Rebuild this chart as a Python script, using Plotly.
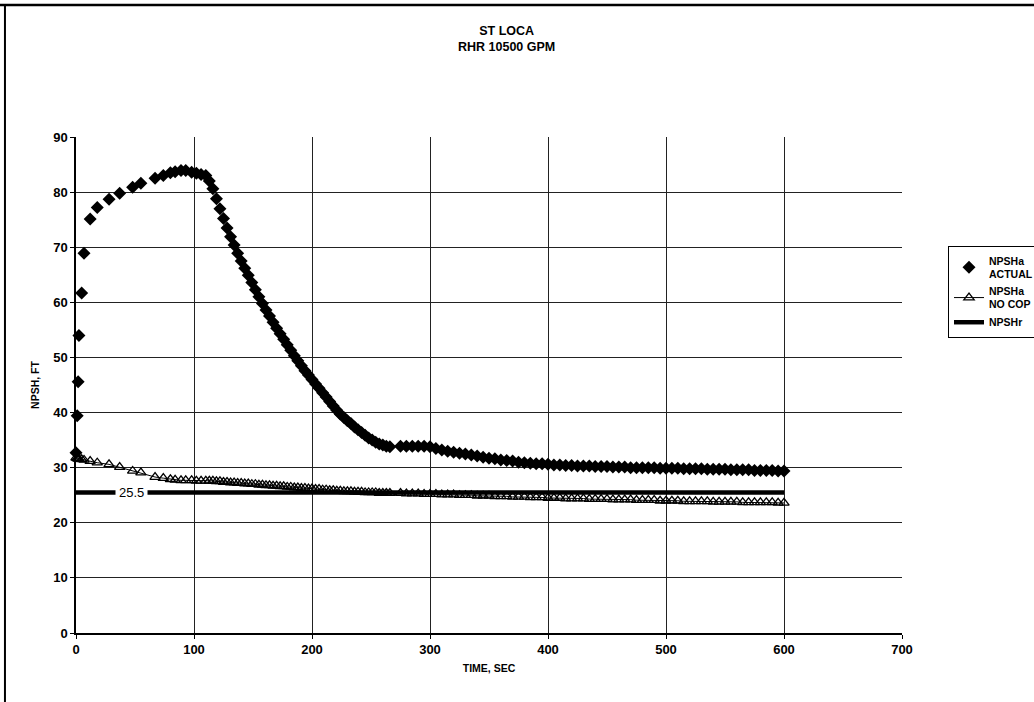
import plotly.graph_objects as go

# ---------------- data ----------------
time_sec = [0, 1, 1.8, 2.5, 4.8, 6.8, 12, 18, 28, 37, 48, 55, 67, 74, 80, 84, 89, 93, 98, 102, 106, 110, 113,
            116, 119, 122, 125, 128, 131, 134, 137, 140, 143, 146, 149, 152, 155, 158, 161, 164, 167, 170,
            173, 176, 179, 182, 185, 188, 191, 194, 197, 200, 203, 206, 209, 212, 215, 218, 221, 224, 227,
            230, 233, 236, 239, 242, 245, 248, 251, 254, 257, 260, 263, 266,
            275, 280, 285, 290, 295, 300, 305, 310, 315, 320, 325, 330, 335, 340, 345, 350, 355, 360, 365,
            370, 375, 380, 385, 390, 395, 400, 405, 410, 415, 420, 425, 430, 435, 440, 445, 450, 455, 460,
            465, 470, 475, 480, 485, 490, 495, 500, 505, 510, 515, 520, 525, 530, 535, 540, 545, 550, 555,
            560, 565, 570, 575, 580, 585, 590, 595, 600]

npsha_actual = [32.7, 39.4, 45.6, 54.0, 61.7, 68.9, 75.1, 77.2, 78.7, 79.8, 80.9, 81.6, 82.5, 83.0, 83.5, 83.7,
                83.9, 83.9, 83.6, 83.4, 83.2, 83.0, 82.0,
                80.6, 78.8, 77.0, 75.2, 73.5, 71.9, 70.4, 68.9, 67.5, 66.2, 64.9, 63.6, 62.3, 61.0, 59.8, 58.6,
                57.5, 56.4, 55.3, 54.3, 53.3, 52.3, 51.3, 50.3, 49.4, 48.5, 47.6, 46.8, 46.0, 45.2, 44.4, 43.6,
                42.8, 42.0, 41.2, 40.4, 39.7, 39.1, 38.5, 38.0, 37.4, 36.9, 36.4, 35.9, 35.4, 35.0, 34.6, 34.3,
                34.1, 33.9, 33.8,
                33.9, 33.9, 33.9, 33.9, 33.9, 33.8, 33.5, 33.2, 33.0, 32.8, 32.6, 32.5, 32.3, 32.1, 31.9, 31.7,
                31.6, 31.4, 31.3, 31.2, 31.0, 30.9, 30.8, 30.7, 30.7, 30.6, 30.5, 30.5, 30.4, 30.4, 30.3, 30.3,
                30.3, 30.2, 30.2, 30.2, 30.1, 30.1, 30.1, 30.0, 30.0, 30.0, 30.0, 30.0, 29.9, 29.9, 29.9, 29.9,
                29.8, 29.8, 29.8, 29.8, 29.7, 29.7, 29.7, 29.7, 29.6, 29.6, 29.6, 29.6, 29.5, 29.5, 29.5, 29.5,
                29.4, 29.4]

npsha_no_cop = [31.8, 31.7, 31.6, 31.6, 31.5, 31.4, 31.2, 30.9, 30.6, 30.1, 29.4, 29.1, 28.3, 28.1, 27.9, 27.8,
                27.7, 27.7, 27.7, 27.6, 27.6, 27.6, 27.6,
                27.6, 27.5, 27.5, 27.4, 27.4, 27.3, 27.3, 27.2, 27.2, 27.1, 27.1, 27.0, 27.0, 26.9, 26.9, 26.8,
                26.8, 26.7, 26.7, 26.6, 26.6, 26.5, 26.5, 26.4, 26.4, 26.3, 26.3, 26.2, 26.2, 26.1, 26.1, 26.0,
                26.0, 25.9, 25.9, 25.8, 25.8, 25.7, 25.7, 25.7, 25.6, 25.6, 25.6, 25.5, 25.5, 25.5, 25.5, 25.4,
                25.4, 25.4, 25.4,
                25.4, 25.3, 25.3, 25.3, 25.2, 25.2, 25.2, 25.1, 25.1, 25.1, 25.0, 25.0, 25.0, 24.9, 24.9, 24.9,
                24.8, 24.8, 24.8, 24.7, 24.7, 24.7, 24.6, 24.6, 24.6, 24.5, 24.5, 24.5, 24.4, 24.4, 24.4, 24.4,
                24.3, 24.3, 24.3, 24.3, 24.2, 24.2, 24.2, 24.2, 24.1, 24.1, 24.1, 24.1, 24.0, 24.0, 24.0, 24.0,
                23.9, 23.9, 23.9, 23.9, 23.9, 23.8, 23.8, 23.8, 23.8, 23.8, 23.7, 23.7, 23.7, 23.7, 23.7, 23.7,
                23.6, 23.6]

npshr_time = [0, 600]
npshr = [25.5, 25.5]
npshr_label_time = 47

x_ticks = [0, 100, 200, 300, 400, 500, 600, 700]
y_ticks = [0, 10, 20, 30, 40, 50, 60, 70, 80, 90]

FONT = "Liberation Sans, Arial, sans-serif"

fig = go.Figure()

fig.add_trace(go.Scatter(
    x=time_sec, y=npsha_actual, mode="markers", name="NPSHa<br>ACTUAL",
    marker=dict(symbol="diamond", size=10, color="black"), cliponaxis=False))

fig.add_trace(go.Scatter(
    x=time_sec, y=npsha_no_cop, mode="lines+markers", name="NPSHa<br>NO COP",
    line=dict(color="black", width=1),
    marker=dict(symbol="triangle-up-open", size=9, color="black", line=dict(width=1.3, color="black")),
    cliponaxis=False))

fig.add_trace(go.Scatter(
    x=npshr_time, y=npshr, mode="lines", name="NPSHr",
    line=dict(color="black", width=4.5), cliponaxis=False))

fig.add_annotation(x=npshr_label_time, y=npshr[0], text=f"{npshr[0]}", showarrow=False,
                   bgcolor="white", borderpad=3, font=dict(family=FONT, size=13, color="black"))

fig.add_annotation(xref="paper", yref="paper", x=0.5206, y=1.232, xanchor="center", yanchor="top",
                   text="<b>ST LOCA<br>RHR 10500 GPM</b>", showarrow=False,
                   font=dict(family=FONT, size=12.5, color="black"))

axis_common = dict(showgrid=True, gridcolor="#222", gridwidth=1, showline=True, linecolor="black",
                   linewidth=1.5, ticks="outside", ticklen=4, tickcolor="black", zeroline=False,
                   tickfont=dict(family=FONT, size=13, color="black", weight="bold"))

fig.update_xaxes(range=[0, 700], tickvals=x_ticks, mirror=False,
                 title=dict(text="<b>TIME, SEC</b>", font=dict(family=FONT, size=10.5, color="black"), standoff=8),
                 **axis_common)
fig.update_yaxes(range=[0, 90], tickvals=y_ticks,
                 title=dict(text="<b>NPSH, FT</b>", font=dict(family=FONT, size=10.5, color="black"), standoff=12),
                 **axis_common)

fig.add_shape(type="line", xref="paper", yref="paper", x0=-0.086, x1=-0.086, y0=-0.15, y1=1.266,
              line=dict(color="black", width=2))
fig.add_shape(type="line", xref="paper", yref="paper", x0=-0.1, x1=1.2, y0=1.266, y1=1.266,
              line=dict(color="black", width=2.5))

fig.update_layout(
    width=1034, height=702,
    margin=dict(l=76, r=132, t=137, b=69, autoexpand=False),
    paper_bgcolor="white", plot_bgcolor="white",
    font=dict(family=FONT, color="black"),
    showlegend=True,
    legend=dict(x=1.0557, y=0.78, xanchor="left", yanchor="top", bgcolor="white",
                bordercolor="black", borderwidth=1, itemwidth=30, tracegroupgap=0,
                font=dict(family=FONT, size=10.5, color="black", weight="bold")),
)

fig.write_html("out.html")
